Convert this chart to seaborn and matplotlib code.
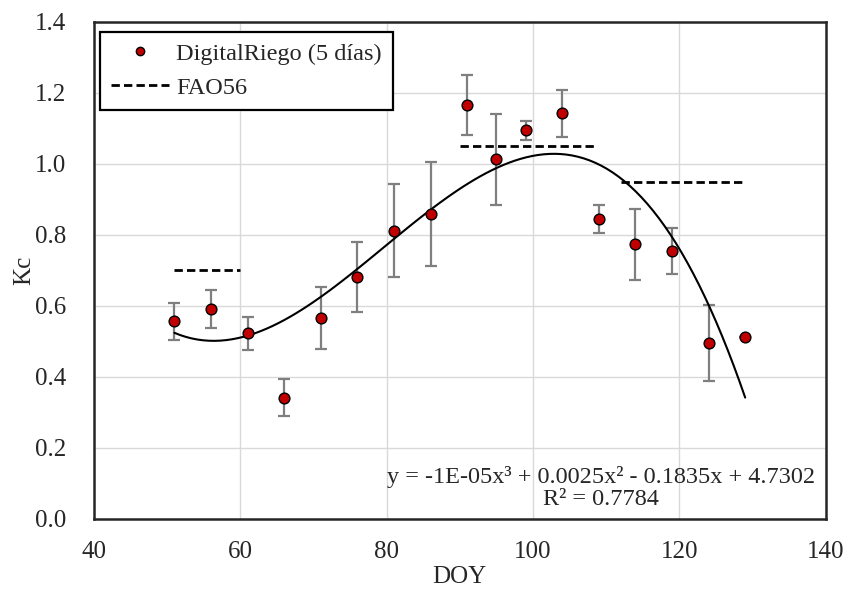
import numpy as np
import pandas as pd
import seaborn as sns
import matplotlib.pyplot as plt
from matplotlib.lines import Line2D

# ── Daten ──────────────────────────────────────────────
doy = [51, 56, 61, 66, 71, 76, 81, 86, 91, 95, 99, 104, 109, 114, 119, 124, 129]
kc = [0.557, 0.592, 0.523, 0.341, 0.566, 0.681, 0.812, 0.858, 1.166, 1.013,
      1.095, 1.142, 0.845, 0.774, 0.755, 0.495, 0.512]
kc_err = [0.052, 0.054, 0.047, 0.052, 0.088, 0.099, 0.130, 0.146, 0.085, 0.128,
          0.027, 0.066, 0.040, 0.100, 0.064, 0.107, 0.0]

fao_start = [51, 90, 112]
fao_end = [60, 108.5, 129]
fao_kc = [0.70, 1.05, 0.95]

df = pd.DataFrame({"DOY": doy, "Kc": kc, "err": kc_err})

# ── Plot ───────────────────────────────────────────────
sns.set_style("whitegrid", {"grid.color": "#d9d9d9", "axes.edgecolor": "#262626"})
plt.rcParams["font.family"] = ["Liberation Serif", "DejaVu Serif"]

fig = plt.figure(figsize=(8.46, 5.91), dpi=100)
ax = fig.add_axes([0.111, 0.122, 0.865, 0.841])

# Fehlerbalken
ax.errorbar(df["DOY"], df["Kc"], yerr=df["err"], fmt="none",
            ecolor="#7f7f7f", elinewidth=1.6, capsize=4, capthick=1.6, zorder=2)

# Polynom 3. Grades
sns.regplot(data=df, x="DOY", y="Kc", order=3, ci=None, scatter=False,
            line_kws={"color": "black", "lw": 1.5, "zorder": 3}, ax=ax)

# FAO56
ax.hlines(fao_kc, fao_start, fao_end, colors="black", linewidth=2.0,
          linestyles=(0, (3.0, 1.5)), zorder=3)

# Punkte
sns.scatterplot(data=df, x="DOY", y="Kc", color="#c00000", edgecolor="black",
                linewidth=1.0, s=60, zorder=4, ax=ax, legend=False)

ax.set_xlim(40, 140)
ax.set_ylim(0, 1.4)
ax.set_xticks(np.arange(40, 141, 20))
ax.set_yticks(np.arange(0, 1.41, 0.2))
ax.yaxis.set_major_formatter(plt.FormatStrFormatter("%.1f"))
ax.tick_params(labelsize=18, colors="#262626", length=0)
ax.tick_params(axis="y", pad=20)
ax.tick_params(axis="x", pad=16)
for s in ax.spines.values():
    s.set_linewidth(1.8)
ax.grid(True, lw=1.0)

ax.set_xlabel("DOY", fontsize=18, labelpad=2)
ax.set_ylabel("Kc", fontsize=18, labelpad=0)

ax.text(109.3, 0.025,
        "y = -1E-05x³ + 0.0025x² - 0.1835x + 4.7302\nR² = 0.7784",
        ha="center", va="bottom", multialignment="center", fontsize=17.5,
        linespacing=1.05, color="#262626", zorder=5)

handles = [
    Line2D([], [], marker="o", ls="none", markerfacecolor="#c00000",
           markeredgecolor="black", markersize=6),
    Line2D([], [], color="black", lw=2.0, ls=(0, (3.0, 1.5))),
]
leg = ax.legend(handles, ["DigitalRiego (5 días)", "FAO56"], loc="upper left",
                fontsize=17.5, frameon=True, fancybox=False, framealpha=1,
                edgecolor="black", handlelength=2.4, handletextpad=0.3,
                borderpad=0.45, labelspacing=0.5, borderaxespad=0,
                bbox_to_anchor=(0.008, 0.98))
leg.get_frame().set_linewidth(1.6)

fig.savefig("out.png", dpi=100)
